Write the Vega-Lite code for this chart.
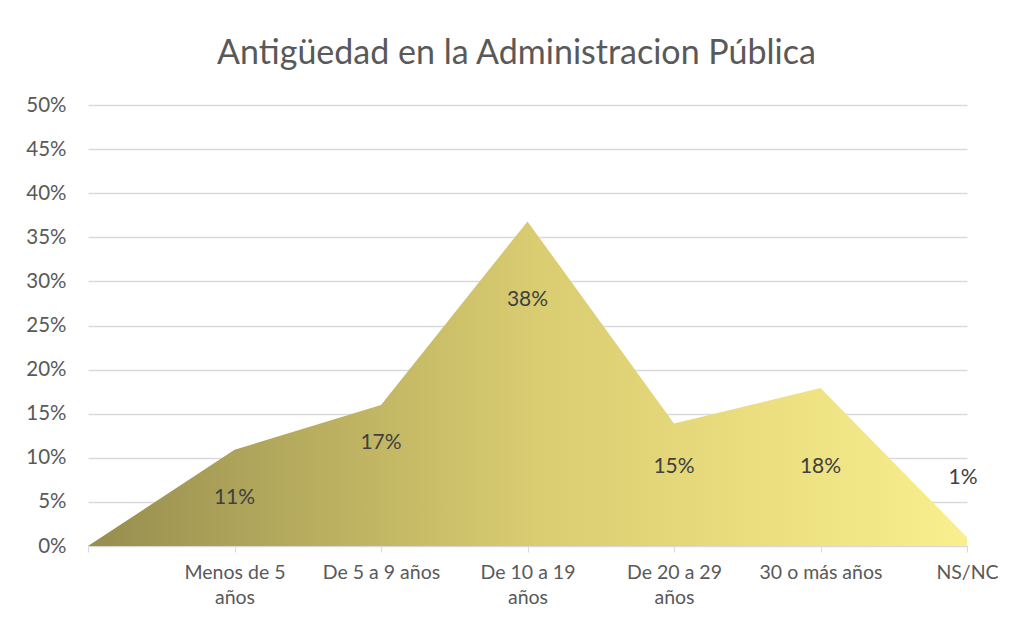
{
  "$schema": "https://vega.github.io/schema/vega-lite/v6.json",
  "width": 879,
  "height": 441,
  "autosize": "none",
  "padding": {"left": 88, "top": 105, "right": 50, "bottom": 76},
  "background": "white",
  "config": {
    "font": "Lato",
    "view": {"stroke": null}
  },
  "title": {
    "text": "Antigüedad en la Administracion Pública",
    "fontSize": 34,
    "fontWeight": "normal",
    "color": "#595959",
    "font": "Lato",
    "offset": 24,
    "dx": -11
  },
  "data": {
    "values": [
      {"cat": " ", "value": 0, "label": ""},
      {"cat": "Menos de 5 años", "value": 0.109, "label": "11%"},
      {"cat": "De 5 a 9 años", "value": 0.16, "label": "17%"},
      {"cat": "De 10 a 19 años", "value": 0.368, "label": "38%"},
      {"cat": "De 20 a 29 años", "value": 0.139, "label": "15%"},
      {"cat": "30 o más años", "value": 0.179, "label": "18%"},
      {"cat": "NS/NC", "value": 0.01, "label": "1%"}
    ]
  },
  "encoding": {
    "x": {
      "field": "cat",
      "type": "ordinal",
      "sort": null,
      "scale": {"type": "point", "padding": 0},
      "axis": {
        "title": null,
        "labelAngle": 0,
        "labelFontSize": 19.5,
        "labelColor": "#595959",
        "labelPadding": 11,
        "labelLineHeight": 25,
        "labelBaseline": "top",
        "labelOverlap": false,
        "tickColor": "#D9D9D9",
        "tickSize": 6,
        "domainColor": "#D9D9D9",
        "grid": false,
        "labelExpr": "datum.value == 'Menos de 5 años' ? ['Menos de 5', 'años'] : datum.value == 'De 10 a 19 años' ? ['De 10 a 19', 'años'] : datum.value == 'De 20 a 29 años' ? ['De 20 a 29', 'años'] : datum.value"
      }
    },
    "y": {
      "field": "value",
      "type": "quantitative",
      "scale": {"domain": [0, 0.5], "nice": false},
      "axis": {
        "title": null,
        "format": ".0%",
        "values": [0, 0.05, 0.1, 0.15, 0.2, 0.25, 0.3, 0.35, 0.4, 0.45, 0.5],
        "labelOverlap": false,
        "labelFontSize": 20.5,
        "labelColor": "#595959",
        "labelPadding": 22,
        "ticks": false,
        "domain": false,
        "gridColor": "#D9D9D9",
        "gridWidth": 1.3
      }
    }
  },
  "layer": [
    {
      "mark": {
        "type": "area",
        "line": false,
        "color": {
          "gradient": "linear",
          "x1": 0, "y1": 0.5, "x2": 1, "y2": 0.5,
          "stops": [
            {"offset": 0, "color": "#968D4F"},
            {"offset": 0.26, "color": "#B9AE5F"},
            {"offset": 0.51, "color": "#D9CC71"},
            {"offset": 0.76, "color": "#EADE7F"},
            {"offset": 1, "color": "#F9EF8F"}
          ]
        }
      }
    },
    {
      "transform": [{"filter": "datum.cat == 'Menos de 5 años'"}],
      "mark": {"type": "text", "fontSize": 21, "color": "#404040", "baseline": "middle", "dy": 48},
      "encoding": {"text": {"field": "label"}}
    },
    {
      "transform": [{"filter": "datum.cat == 'De 5 a 9 años'"}],
      "mark": {"type": "text", "fontSize": 21, "color": "#404040", "baseline": "middle", "dy": 38},
      "encoding": {"text": {"field": "label"}}
    },
    {
      "transform": [{"filter": "datum.cat == 'De 10 a 19 años' || datum.cat == '30 o más años'"}],
      "mark": {"type": "text", "fontSize": 21, "color": "#404040", "baseline": "middle", "dy": 79},
      "encoding": {"text": {"field": "label"}}
    },
    {
      "transform": [{"filter": "datum.cat == 'De 20 a 29 años'"}],
      "mark": {"type": "text", "fontSize": 21, "color": "#404040", "baseline": "middle", "dy": 44},
      "encoding": {"text": {"field": "label"}}
    },
    {
      "transform": [{"filter": "datum.cat == 'NS/NC'"}],
      "mark": {"type": "text", "fontSize": 21, "color": "#404040", "baseline": "middle", "dy": -59, "dx": -4},
      "encoding": {"text": {"field": "label"}}
    }
  ]
}
